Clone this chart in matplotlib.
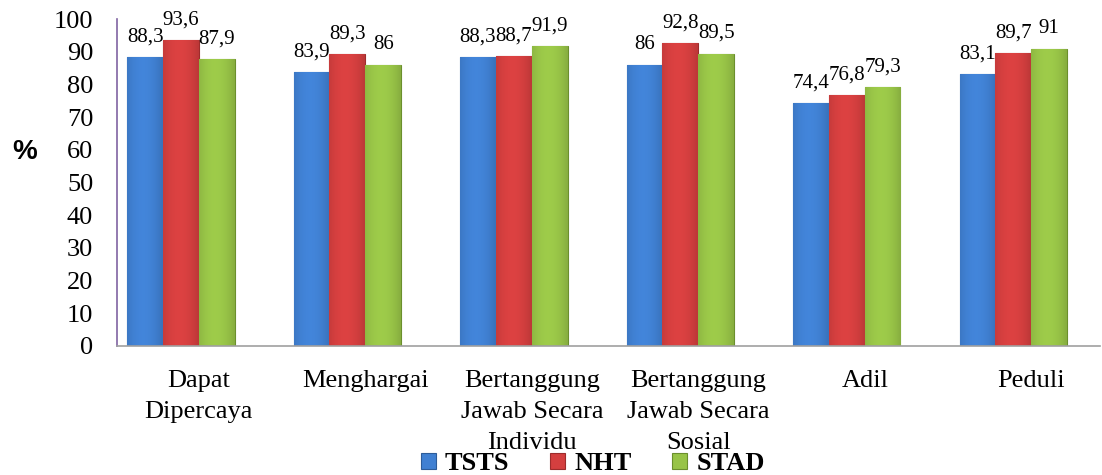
import matplotlib.pyplot as plt
import matplotlib.colors as mcolors
import numpy as np

categories = ['Dapat\nDipercaya', 'Menghargai', 'Bertanggung\nJawab Secara\nIndividu',
              'Bertanggung\nJawab Secara\nSosial', 'Adil', 'Peduli']
tsts = [88.3, 83.9, 88.3, 86.0, 74.4, 83.1]
nht = [93.6, 89.3, 88.7, 92.8, 76.8, 89.7]
stad = [87.9, 86.0, 91.9, 89.5, 79.3, 91.0]
series_names = ['TSTS', 'NHT', 'STAD']
yticks = list(range(0, 101, 10))

colors = ['#4080d2', '#d43f3f', '#98c447']
edges = ['#2d5c99', '#9c2c2c', '#6b8f2d']

serif = ['Liberation Serif', 'DejaVu Serif']

fig = plt.figure(figsize=(11.02, 4.75), dpi=100)
ax = fig.add_axes([0.106, 0.2716, 0.892, 0.688])

x = np.arange(len(categories))
w = 0.215


def fmt(v):
    s = ('%.1f' % v).replace('.', ',')
    return s[:-2] if s.endswith(',0') else s


handles = []
for k, vals in enumerate([tsts, nht, stad]):
    bars = ax.bar(x + (k - 1) * w, vals, w, color=colors[k], edgecolor=edges[k],
                  linewidth=0.8, label=series_names[k], zorder=2)
    handles.append(bars)
    base = np.array(mcolors.to_rgb(colors[k]))
    for b, v in zip(bars, vals):
        # soft horizontal shading like the original bevelled bars
        x0, y0 = b.get_x(), b.get_y()
        t = np.linspace(0, 1, 32)
        shade = 1.04 - 0.5 * np.abs(t - 0.45) ** 2
        img = np.clip(base[None, None, :] * shade[None, :, None], 0, 1)
        im = ax.imshow(img, extent=(x0, x0 + b.get_width(), y0, y0 + b.get_height()),
                       aspect='auto', zorder=2.5, interpolation='bicubic')
        im.set_clip_path(b)
        ax.text(b.get_x() + b.get_width() / 2, v + 3.2, fmt(v), ha='center', va='bottom',
                fontsize=15, family=serif, zorder=4)

ax.set_xlim(-0.385, 5.52)
ax.set_ylim(0, 100)
ax.set_yticks(yticks)
ax.set_yticklabels([str(t) for t in yticks], family=serif, fontsize=19)
ax.set_xticks(x + 0.108)
ax.set_xticklabels(categories, family=serif, fontsize=19, linespacing=1.55)
ax.tick_params(axis='both', length=0)
ax.tick_params(axis='x', pad=17)
ax.tick_params(axis='y', pad=17)

for s in ['top', 'right']:
    ax.spines[s].set_visible(False)
ax.spines['left'].set_color('#8064a2')
ax.spines['left'].set_linewidth(1.2)
ax.spines['bottom'].set_color('#a0a0a0')
ax.spines['bottom'].set_linewidth(1.2)

fig.text(0.022, 0.68, '%', family=['Liberation Sans', 'DejaVu Sans'], fontweight='bold',
         fontsize=20, ha='center', va='center')

leg = fig.legend(handles=handles, loc='center', bbox_to_anchor=(0.538, 0.024), ncol=3,
                 frameon=False, handlelength=0.55, handleheight=0.55, handletextpad=0.35,
                 columnspacing=1.55, prop={'family': serif, 'weight': 'bold', 'size': 19},
                 borderpad=0)

fig.savefig('out.png', dpi=100)
